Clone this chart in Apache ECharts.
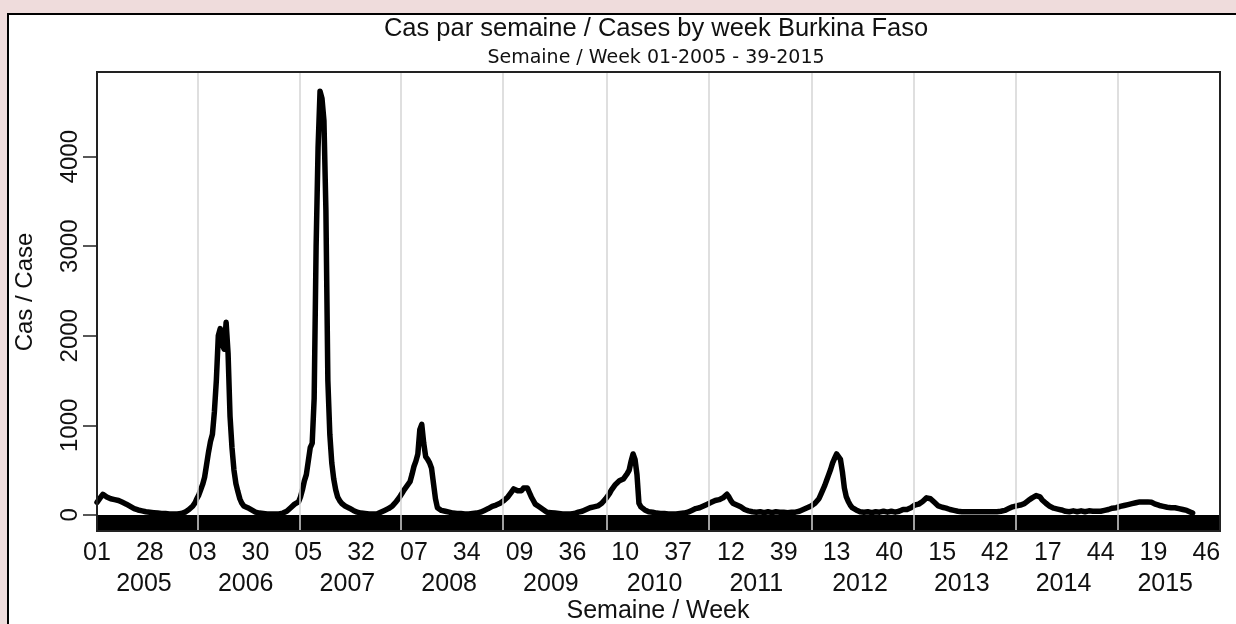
<!DOCTYPE html>
<html>
<head>
<meta charset="utf-8">
<script src="https://cdn.jsdelivr.net/npm/echarts@6/dist/echarts.min.js"></script>
<style>
html,body{margin:0;padding:0;background:#efdcdc;}
#chart{width:1236px;height:624px;}
</style>
</head>
<body>
<div id="chart"></div>
<script>
// Weekly cases, one array per year (ISO-like weeks; 2009 and 2011 have 53 weeks)
const cases2005 = [140,170,200,230,220,200,190,180,190,170,175,160,150,140,130,120,110,95,80,70,60,55,50,45,40,35,30,30,25,25,20,20,20,15,15,15,10,10,10,10,10,10,10,15,20,30,40,60,80,100,130,180];
const cases2006 = [220,280,340,420,560,700,820,900,1150,1500,2000,2080,1900,1850,2150,1800,1100,750,500,350,260,180,130,100,90,80,70,55,40,30,25,20,20,15,15,10,10,10,10,10,10,10,15,20,30,40,60,80,100,120,130,145];
const cases2007 = [200,280,380,450,600,750,800,1300,3000,4100,4730,4650,4400,3400,1500,900,580,400,280,200,160,130,110,95,85,75,60,50,40,30,25,20,20,15,15,10,10,10,10,10,15,30,40,50,60,70,85,100,120,150,180,210];
const cases2008 = [245,280,310,340,370,450,540,600,680,950,1010,800,650,620,580,520,350,180,80,60,50,45,40,30,30,25,20,20,15,15,15,10,10,10,10,10,15,15,20,25,30,40,50,60,70,85,95,100,110,120,130,145];
const cases2009 = [160,180,200,220,260,290,310,270,250,270,300,290,300,250,200,160,120,100,90,80,60,40,30,30,25,20,20,15,15,10,10,10,10,10,10,10,15,20,30,35,40,50,60,70,80,85,90,95,100,110,130,150,180];
const cases2010 = [210,240,280,310,340,360,380,370,400,430,460,500,600,680,620,450,130,90,70,55,50,35,30,30,25,20,20,15,15,15,10,10,10,10,10,10,15,15,20,20,25,30,40,50,60,70,75,80,90,100,110,120];
const cases2011 = [130,140,150,160,165,170,180,190,200,230,200,160,130,120,110,100,90,70,60,55,45,40,35,35,30,30,35,30,25,30,35,30,25,30,35,30,30,35,30,30,25,30,30,35,30,30,40,50,60,70,80,90,100];
const cases2012 = [110,130,150,180,230,280,330,390,450,510,580,630,680,700,620,480,300,200,150,110,80,65,55,50,35,35,30,30,35,30,25,30,35,30,30,35,40,35,30,35,40,35,30,35,40,50,60,50,60,70,80,90];
const cases2013 = [110,110,120,140,150,170,190,210,180,160,140,120,100,95,85,80,75,65,60,55,50,45,40,35,35,30,35,40,35,30,35,40,35,30,35,30,35,40,35,30,35,40,35,35,40,45,50,60,70,80,90,100];
const cases2014 = [100,105,110,115,125,140,160,175,190,205,215,220,200,170,150,130,110,95,85,75,70,65,60,55,50,40,40,35,40,45,40,35,40,45,40,35,40,45,40,40,35,40,45,40,45,50,55,60,70,75,80,80];
const cases2015 = [90,95,100,105,110,115,120,125,130,135,140,145,150,145,150,145,150,140,130,120,110,105,100,95,90,85,80,80,75,80,75,70,65,60,55,50,40,30,20];

const yearNames = ['2005','2006','2007','2008','2009','2010','2011','2012','2013','2014','2015'];
const weekTickLabels = ['01','28','03','30','05','32','07','34','09','36','10','37','12','39','13','40','15','42','17','44','19','46'];
const yTickValues = [0,1000,2000,3000,4000];

const titleText = 'Cas par semaine / Cases by week Burkina Faso';
const subtitleText = 'Semaine / Week 01-2005 - 39-2015';
const xName = 'Semaine / Week';
const yName = 'Cas / Case';

const yearly = [cases2005,cases2006,cases2007,cases2008,cases2009,cases2010,cases2011,cases2012,cases2013,cases2014,cases2015];
const allCases = [].concat(...yearly);
const seriesData = allCases.map((v, i) => [i, v]);
const yearStarts = [];
{ let s = 0; yearly.forEach(a => { yearStarts.push(s); s += a.length; }); }

const TICK_STEP = 27;
const tickPos = weekTickLabels.map((_, k) => k * TICK_STEP);
const tickMap = {}; tickPos.forEach((p, k) => tickMap[p] = weekTickLabels[k]);
const yearPos = yearStarts.map(s => s + 24);
const yearMap = {}; yearPos.forEach((p, k) => yearMap[p] = yearNames[k]);

const X_MIN = 0, X_MAX = 574, Y_MIN = -180, Y_MAX = 4945;
const FONT = "'Liberation Sans', Arial, sans-serif";
const TXT = '#111';

const chart = echarts.init(document.getElementById('chart'), null, {renderer: 'canvas'});
chart.setOption({
  animation: false,
  backgroundColor: '#efdcdc',
  grid: {left: 97, top: 72, width: 1123, height: 459, show: true, borderColor: '#222', borderWidth: 2, backgroundColor: 'transparent', z: 10},
  xAxis: [
    {type: 'value', min: X_MIN, max: X_MAX, gridIndex: 0, position: 'bottom',
      axisLine: {show: false}, axisTick: {show: false}, splitLine: {show: false},
      axisLabel: {customValues: tickPos, formatter: v => tickMap[Math.round(v)] || '', fontFamily: FONT, fontSize: 25, color: TXT, margin: 22, verticalAlign: 'middle'}},
    {type: 'value', min: X_MIN, max: X_MAX, gridIndex: 0, position: 'bottom',
      axisLine: {show: false}, axisTick: {show: false}, splitLine: {show: false},
      axisLabel: {customValues: yearPos, formatter: v => yearMap[Math.round(v)] || '', fontFamily: FONT, fontSize: 25, color: TXT, margin: 53, verticalAlign: 'middle'}}
  ],
  yAxis: {type: 'value', min: Y_MIN, max: Y_MAX,
    axisLine: {show: false}, splitLine: {show: false},
    axisTick: {show: true, customValues: yTickValues, length: 14, lineStyle: {color: '#222', width: 1.5}},
    axisLabel: {customValues: yTickValues, formatter: v => String(v), rotate: 90, fontFamily: FONT, fontSize: 24, color: TXT, margin: 15}},
  series: [
    {type: 'line', data: [], z: 1, silent: true,
      markLine: {silent: true, symbol: 'none', label: {show: false}, animation: false,
        lineStyle: {color: '#d4d4d4', type: 'solid', width: 1.5},
        data: yearStarts.slice(1).map(s => ({xAxis: s - 0.5}))}},
    {type: 'line', data: seriesData, z: 3, symbol: 'none', showSymbol: false,
      lineStyle: {color: '#000', width: 5.5, cap: 'round', join: 'round'}},
    {type: 'line', data: [], z: 4, silent: true,
      markArea: {silent: true, itemStyle: {color: '#000', opacity: 1}, label: {show: false},
        data: [[{yAxis: Y_MIN}, {yAxis: 0}]]}}
  ],
  graphic: [
    {type: 'rect', z: -100, silent: true, shape: {x: 8, y: 14, width: 1300, height: 700}, style: {fill: '#fff', stroke: '#000', lineWidth: 2}},
    {type: 'text', z: 100, x: 656, y: 29, style: {text: titleText, font: "25.5px " + FONT, fill: TXT, align: 'center', verticalAlign: 'middle'}},
    {type: 'text', z: 100, x: 656, y: 58, style: {text: subtitleText, font: "19px 'DejaVu Sans', sans-serif", fill: TXT, align: 'center', verticalAlign: 'middle'}},
    {type: 'text', z: 100, x: 658, y: 611, style: {text: xName, font: "25px " + FONT, fill: TXT, align: 'center', verticalAlign: 'middle'}},
    {type: 'text', z: 100, x: 25, y: 292, rotation: Math.PI / 2, style: {text: yName, font: "24px " + FONT, fill: TXT, align: 'center', verticalAlign: 'middle'}}
  ]
});
</script>
</body>
</html>
